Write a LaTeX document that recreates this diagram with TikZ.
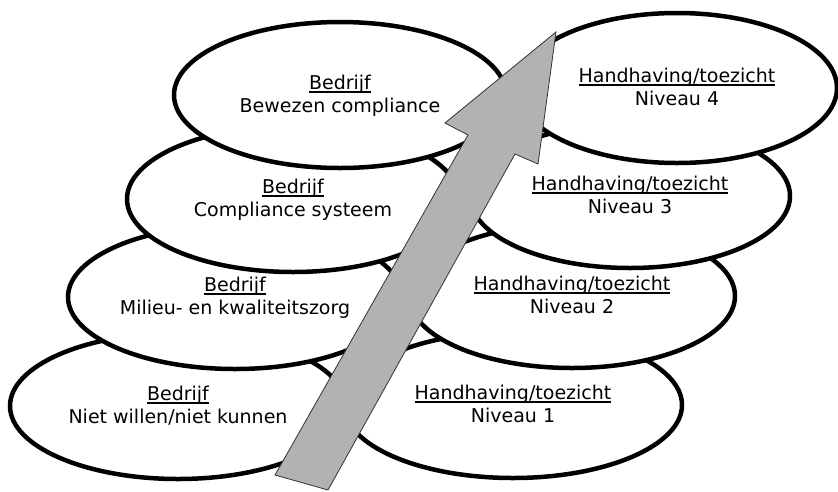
\documentclass[tikz,border=0pt]{standalone}
\usepackage{fontspec}
\setmainfont{DejaVu Sans}
\usetikzlibrary{shapes.geometric}
\definecolor{shaftgray}{RGB}{178,178,178}
\newcommand{\lstrut}{\rule[-4pt]{0pt}{19pt}}
\newcommand{\ulbar}[1]{\setbox0\hbox{#1}\rlap{\rule[-3.5pt]{\wd0}{1.3pt}}\box0}

\begin{document}
\begin{tikzpicture}[
	x=1pt, y=-1pt,
	stage/.style={ellipse, draw, line width=4.5pt, fill=white, inner sep=0pt,
		align=center, font=\fontsize{19}{23}\selectfont},
	pointer/.style={fill=shaftgray, draw=black!80, line width=0.8pt, line join=miter}]
\useasboundingbox[fill=white] (0,0) rectangle (838,491);
% lowest row first, so each higher ellipse lies on top
\node[stage, minimum width=336pt, minimum height=146pt] (firm1) at (178,406)
	{\lstrut\ulbar{Bedrijf}\\\lstrut Niet willen/niet kunnen};
\node[stage, minimum width=338pt, minimum height=146pt] (insp1) at (513,405)
	{\lstrut\ulbar{Handhaving/toezicht}\\\lstrut Niveau 1};
\node[stage, minimum width=334pt, minimum height=144pt] (firm2) at (235,297)
	{\lstrut\ulbar{Bedrijf}\\\lstrut Milieu- en kwaliteitszorg};
\node[stage, minimum width=326pt, minimum height=144pt] (insp2) at (572,296)
	{\lstrut\ulbar{Handhaving/toezicht}\\\lstrut Niveau 2};
\node[stage, minimum width=332pt, minimum height=146pt] (firm3) at (293,199)
	{\lstrut\ulbar{Bedrijf}\\\lstrut Compliance systeem};
\node[stage, minimum width=320pt, minimum height=144pt] (insp3) at (630,196)
	{\lstrut\ulbar{Handhaving/toezicht}\\\lstrut Niveau 3};
\node[stage, minimum width=332pt, minimum height=146pt] (firm4) at (340,95)
	{\lstrut\ulbar{Bedrijf}\\\lstrut Bewezen compliance};
\node[stage, minimum width=320pt, minimum height=150pt] (insp4) at (677,88)
	{\lstrut\ulbar{Handhaving/toezicht}\\\lstrut Niveau 4};
% the big grey arrow
\draw[pointer] (275,475) -- (468,135) -- (445,123) -- (556,32)
	-- (538,164) -- (515,154) -- (328,490) -- cycle;
\end{tikzpicture}
\end{document}
